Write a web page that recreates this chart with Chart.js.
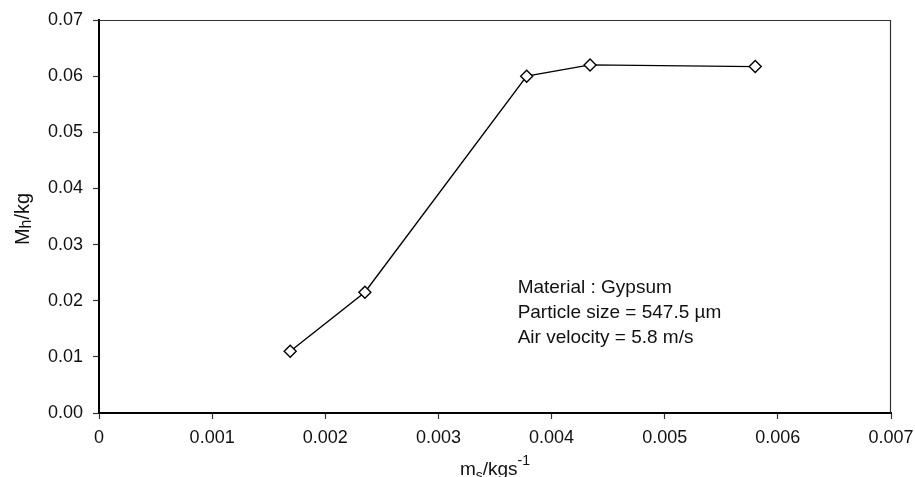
<!DOCTYPE html>
<html>
<head>
<meta charset="utf-8">
<script src="https://cdn.jsdelivr.net/npm/chart.js@4/dist/chart.umd.min.js"></script>
<style>
  html, body { margin: 0; padding: 0; background: #fff; }
  #wrap { width: 915px; height: 477px; }
</style>
</head>
<body>
<div id="wrap"><canvas id="chart"></canvas></div>
<script>
// data
const massFlow = [0.00169, 0.00235, 0.00378, 0.00434, 0.00580];
const holdup = [0.0110, 0.0215, 0.0600, 0.0620, 0.0617];
const xTicks = [0, 0.001, 0.002, 0.003, 0.004, 0.005, 0.006, 0.007];
const yTicks = [0, 0.01, 0.02, 0.03, 0.04, 0.05, 0.06, 0.07];
const noteLines = ['Material : Gypsum', 'Particle size = 547.5 \u00b5m', 'Air velocity = 5.8 m/s'];

const FONT = '"Liberation Sans", Arial, sans-serif';

// frame, axis titles (with sub/superscripts) and the note box
const extras = {
  id: 'extras',
  afterDraw(chart) {
    const ctx = chart.ctx;
    const a = chart.chartArea;
    const xs = chart.scales.x, ys = chart.scales.y;
    ctx.save();
    // top + right frame
    ctx.strokeStyle = '#333';
    ctx.lineWidth = 1.2;
    ctx.beginPath();
    ctx.moveTo(a.left, a.top + 0.5);
    ctx.lineTo(a.right - 0.5, a.top + 0.5);
    ctx.lineTo(a.right - 0.5, a.bottom);
    ctx.stroke();

    ctx.fillStyle = '#111';
    ctx.textBaseline = 'alphabetic';
    ctx.textAlign = 'left';

    const parts = (segs) => segs.reduce((w, s) => {
      ctx.font = s.size + 'px ' + FONT;
      return w + ctx.measureText(s.t).width;
    }, 0);

    // x title: m_s/kgs^-1
    const xSegs = [
      { t: 'm', size: 19, dy: 0 },
      { t: 's', size: 14, dy: 5 },
      { t: '/kgs', size: 19, dy: 0 },
      { t: '-1', size: 14, dy: -10 }
    ];
    let w = parts(xSegs);
    let x = (a.left + a.right) / 2 - w / 2;
    const base = 475;
    xSegs.forEach(s => {
      ctx.font = s.size + 'px ' + FONT;
      ctx.fillText(s.t, x, base + s.dy);
      x += ctx.measureText(s.t).width;
    });

    // y title: M_h/kg
    const ySegs = [
      { t: 'M', size: 20, dy: 0 },
      { t: 'h', size: 16, dy: 2 },
      { t: '/kg', size: 20, dy: 0 }
    ];
    w = parts(ySegs);
    ctx.translate(29, 219);
    ctx.rotate(-Math.PI / 2);
    x = -w / 2;
    ySegs.forEach(s => {
      ctx.font = s.size + 'px ' + FONT;
      ctx.fillText(s.t, x, s.dy);
      x += ctx.measureText(s.t).width;
    });
    ctx.setTransform(1, 0, 0, 1, 0, 0);

    // note
    ctx.font = '19px ' + FONT;
    ctx.textBaseline = 'middle';
    const nx = xs.getPixelForValue(0.0037);
    const ny = ys.getPixelForValue(0.0223);
    noteLines.forEach((l, i) => ctx.fillText(l, nx, ny + i * 25));
    ctx.restore();
  }
};

new Chart(document.getElementById('chart'), {
  type: 'line',
  data: {
    datasets: [{
      data: massFlow.map((v, i) => ({ x: v, y: holdup[i] })),
      borderColor: '#000',
      borderWidth: 1.4,
      pointStyle: 'rectRot',
      pointRadius: 6,
      pointBorderWidth: 1.4,
      pointBackgroundColor: '#fff',
      pointBorderColor: '#000',
      tension: 0,
      fill: false
    }]
  },
  options: {
    responsive: true,
    maintainAspectRatio: false,
    animation: false,
    devicePixelRatio: 1,
    layout: { padding: { top: 20, right: 24, left: 0, bottom: 0 } },
    plugins: { legend: { display: false }, tooltip: { enabled: false } },
    scales: {
      x: {
        type: 'linear',
        min: 0,
        max: 0.007,
        afterBuildTicks: s => { s.ticks = xTicks.map(v => ({ value: v })); },
        afterFit: s => { s.height = 64; s.paddingLeft = 0; s.paddingRight = 0; },
        border: { color: '#000', width: 2 },
        grid: { drawOnChartArea: false, tickLength: 6, tickColor: '#333', tickWidth: 1.2 },
        ticks: {
          color: '#111',
          font: { family: FONT, size: 18 },
          padding: 8,
          maxRotation: 0,
          callback: v => v === 0 ? '0' : v.toFixed(3)
        }
      },
      y: {
        type: 'linear',
        min: 0,
        max: 0.07,
        afterBuildTicks: s => { s.ticks = yTicks.map(v => ({ value: v })); },
        afterFit: s => { s.width = 99; s.paddingTop = 0; s.paddingBottom = 0; },
        border: { color: '#000', width: 2 },
        grid: { drawOnChartArea: false, tickLength: 6, tickColor: '#333', tickWidth: 1.2 },
        ticks: {
          color: '#111',
          font: { family: FONT, size: 18 },
          padding: 10,
          callback: v => v.toFixed(2)
        }
      }
    }
  },
  plugins: [extras]
});
</script>
</body>
</html>
